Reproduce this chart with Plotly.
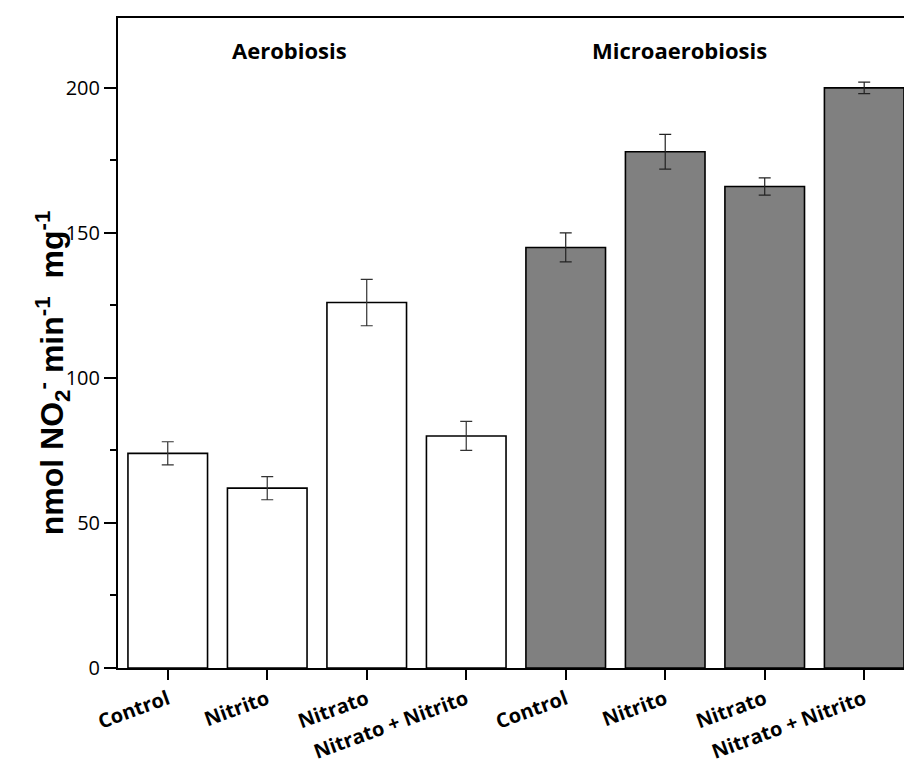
import plotly.graph_objects as go

# Nitrite production by condition (nmol NO2- min-1 mg-1)
categories = ["Control", "Nitrito", "Nitrato", "Nitrato + Nitrito"]
aerobiosis_values = [74, 62, 126, 80]
aerobiosis_errors = [4, 4, 8, 5]
microaerobiosis_values = [145, 178, 166, 200]
microaerobiosis_errors = [5, 6, 3, 2]
y_ticks = [0, 50, 100, 150, 200]

n = len(categories)
x_aer = list(range(n))
x_mic = list(range(n, 2 * n))
tick_text = [f"<b>{c}</b>" for c in categories] * 2

fig = go.Figure()
fig.add_trace(go.Bar(
    x=x_aer, y=aerobiosis_values, width=0.8,
    marker=dict(color="white", line=dict(color="black", width=1.6)),
    error_y=dict(type="data", array=aerobiosis_errors, color="#333333",
                 thickness=1.2, width=6),
    showlegend=False,
))
fig.add_trace(go.Bar(
    x=x_mic, y=microaerobiosis_values, width=0.8,
    marker=dict(color="#808080", line=dict(color="black", width=1.6)),
    error_y=dict(type="data", array=microaerobiosis_errors, color="#222222",
                 thickness=1.2, width=6),
    showlegend=False,
))

fig.add_annotation(x=1.22, y=213, xref="x", yref="y", text="<b>Aerobiosis</b>",
                   showarrow=False, font=dict(family="Open Sans", size=22, color="black"))
fig.add_annotation(x=5.14, y=213, xref="x", yref="y", text="<b>Microaerobiosis</b>",
                   showarrow=False, font=dict(family="Open Sans", size=22, color="black"))

# y-axis title placed as a rotated annotation
fig.add_annotation(
    x=-0.084, y=0.455, xref="paper", yref="paper", textangle=-90, showarrow=False,
    xanchor="center", yanchor="middle",
    text="<b>nmol NO<sub>2</sub><sup>-</sup> min<sup>-1</sup>  mg<sup>-1</sup></b>",
    font=dict(family="Liberation Sans", size=32, color="black"),
)

fig.update_xaxes(
    range=[-0.5, 7.4],
    tickvals=x_aer + x_mic, ticktext=tick_text, tickangle=-20,
    ticks="outside", ticklen=10, tickwidth=2, tickcolor="black",
    tickfont=dict(family="Open Sans", size=20, color="black"),
    showline=True, linewidth=2, linecolor="black", mirror=True,
    showgrid=False, zeroline=False, automargin=False,
)
fig.update_yaxes(
    range=[0, 224.1],
    tickvals=y_ticks,
    ticks="outside", ticklen=12, tickwidth=2, tickcolor="black",
    minor=dict(dtick=25, ticks="outside", ticklen=6, tickwidth=2, tickcolor="black"),
    tickfont=dict(family="Open Sans", size=20, color="black"),
    showline=True, linewidth=2, linecolor="black",
    showgrid=False, zeroline=False, automargin=False,
)

fig.update_layout(
    width=904, height=769,
    margin=dict(l=118, r=0, t=18, b=101),
    plot_bgcolor="white", paper_bgcolor="white",
    bargap=0.2,
)

fig.write_html("out.html")
